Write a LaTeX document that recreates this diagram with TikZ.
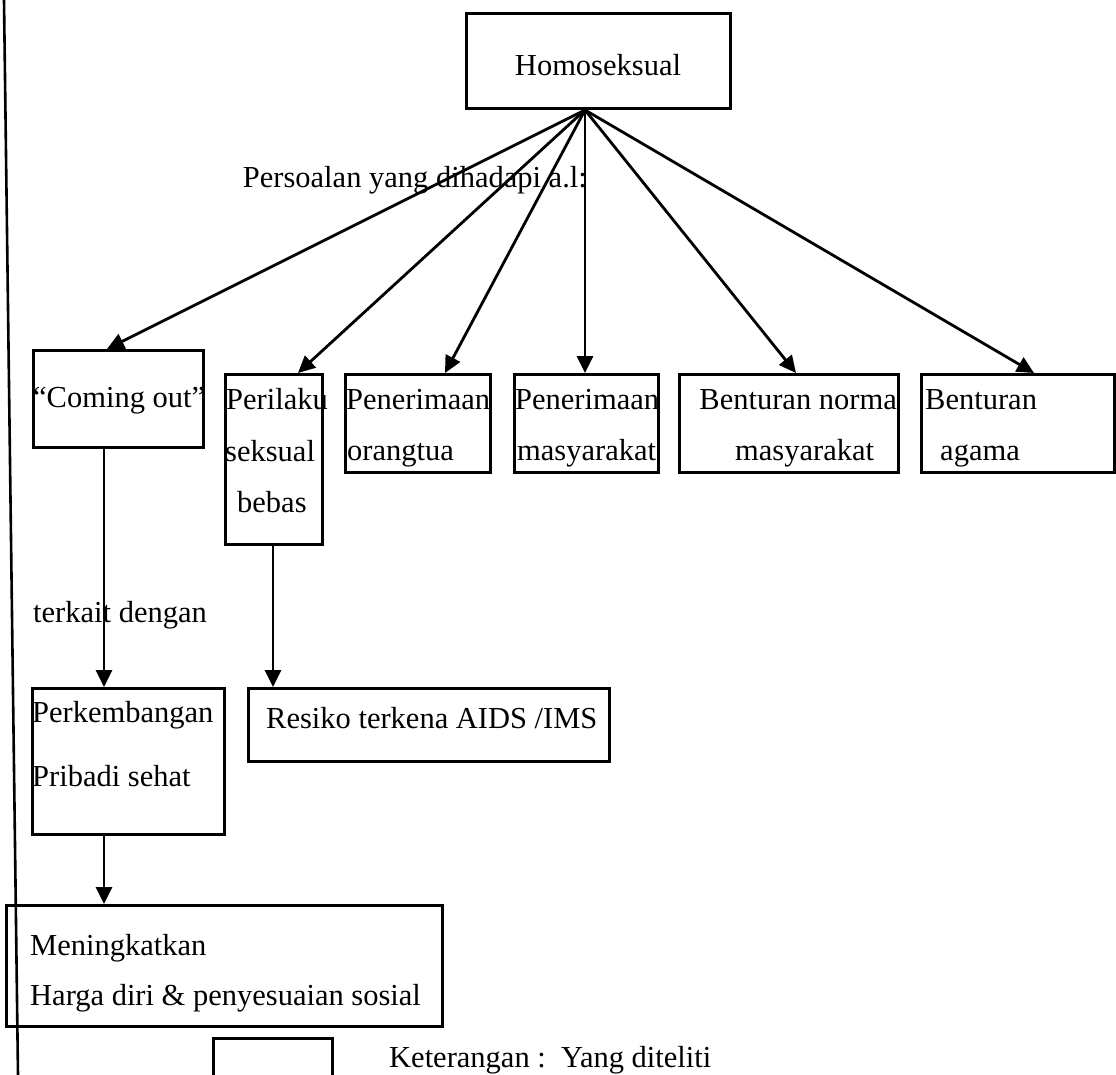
\documentclass[tikz,border=0pt]{standalone}
\usepackage{fontspec}
\setmainfont{Liberation Serif}
\usetikzlibrary{arrows.meta}
\begin{document}
\begin{tikzpicture}[x=1pt,y=-1pt,
  box/.style={draw, line width=2.8pt, inner sep=0pt, anchor=north west},
  lbl/.style={inner sep=0pt, anchor=base west, font=\fontsize{30.5}{36}\selectfont},
  arr/.style={line width=2.8pt, -{Triangle[length=17pt,width=16pt]}},
  ln/.style={line width=2.6pt}]
\useasboundingbox[fill=white] (0,0) rectangle (1116,1075);

% boxes
\node[box, minimum width=264pt, minimum height=95pt] (hom) at (465,12) {};
\node[box, minimum width=170pt, minimum height=97pt] (co) at (32,349) {};
\node[box, minimum width=97pt, minimum height=170pt] (pe) at (224,373) {};
\node[box, minimum width=145pt, minimum height=98pt] (po) at (344,373) {};
\node[box, minimum width=144pt, minimum height=98pt] (pm) at (513,373) {};
\node[box, minimum width=219pt, minimum height=98pt] (bn) at (678,373) {};
\node[box, minimum width=193pt, minimum height=98pt] (ba) at (920,373) {};
\node[box, minimum width=192pt, minimum height=146pt] (pk) at (31,687) {};
\node[box, minimum width=361pt, minimum height=73pt] (rs) at (247,687) {};
\node[box, minimum width=436pt, minimum height=121pt] (mk) at (5,904) {};
\node[box, minimum width=119pt, minimum height=40pt] (lg) at (212,1037) {};

% texts
\node[lbl, anchor=base] (tHom) at (598,76) {Homoseksual};
\node[lbl, anchor=base east] (tPers) at (587,188) {Persoalan yang dihadapi a.l:};
\node[lbl] (tCo) at (33,407) {“Coming out”};
\node[lbl] (tPe1) at (226,409) {Perilaku};
\node[lbl] (tPe2) at (225,461) {seksual};
\node[lbl] (tPe3) at (237,512) {bebas};
\node[lbl] (tPo1) at (346,409) {Penerimaan};
\node[lbl] (tPo2) at (347,460) {orangtua};
\node[lbl] (tPm1) at (515,409) {Penerimaan};
\node[lbl] (tPm2) at (517,460) {masyarakat};
\node[lbl, anchor=base east] (tBn1) at (897,409) {Benturan norma};
\node[lbl] (tBn2) at (735,460) {masyarakat};
\node[lbl] (tBa1) at (925,409) {Benturan};
\node[lbl] (tBa2) at (940,460) {agama};
\node[lbl] (tTerk) at (33,622) {terkait dengan};
\node[lbl] (tPk1) at (32,722) {Perkembangan};
\node[lbl] (tPk2) at (32,786) {Pribadi sehat};
\node[lbl] (tRs) at (266,728) {Resiko terkena AIDS /IMS};
\node[lbl] (tMk1) at (30,955) {Meningkatkan};
\node[lbl] (tMk2) at (30,1005) {Harga diri \& penyesuaian sosial};
\node[lbl] (tLg) at (389,1067) {Keterangan :\ \ Yang diteliti};

% connector points
\coordinate (apex) at (585,110);
\coordinate (coT) at (107,349);
\coordinate (peT) at (298,373);
\coordinate (poT) at (445,373);
\coordinate (pmT) at (585,373);
\coordinate (bnT) at (796,373);
\coordinate (baT) at (1034,373);
\coordinate (coB) at (104,446);
\coordinate (pkT) at (104,687);
\coordinate (peB) at (273,543);
\coordinate (rsT) at (273,687);
\coordinate (pkB) at (104,833);
\coordinate (mkT) at (104,904);
\coordinate (lnTop) at (4,0);
\coordinate (lnBot) at (18,1075);

% connectors
\draw[arr] (apex) -- (coT);
\draw[arr] (apex) -- (peT);
\draw[arr] (apex) -- (poT);
\draw[arr] (apex) -- (pmT);
\draw[arr] (apex) -- (bnT);
\draw[arr] (apex) -- (baT);
\draw[arr] (coB) -- (pkT);
\draw[arr] (peB) -- (rsT);
\draw[arr] (pkB) -- (mkT);
\draw[ln] (lnTop) -- (lnBot);
\end{tikzpicture}
\end{document}
